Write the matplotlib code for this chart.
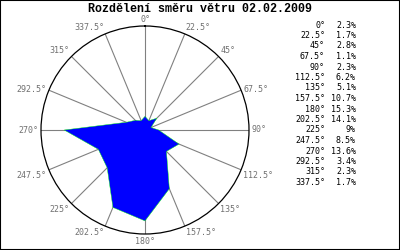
import matplotlib.pyplot as plt
import numpy as np
from matplotlib.patches import Rectangle

directions = [0, 22.5, 45, 67.5, 90, 112.5, 135, 157.5,
              180, 202.5, 225, 247.5, 270, 292.5, 315, 337.5]
shares = [2.3, 1.7, 2.8, 1.1, 2.3, 6.2, 5.1, 10.7,
          15.3, 14.1, 9, 8.5, 13.6, 3.4, 2.3, 1.7]
title = "Rozdělení směru větru 02.02.2009"

fig = plt.figure(figsize=(4, 2.5), dpi=100)
fig.patch.set_facecolor("white")

ax = fig.add_axes([0.1025, 0.064, 0.52, 0.832], projection="polar")
ax.set_theta_zero_location("N")
ax.set_theta_direction(-1)

theta = np.radians(directions + [directions[0]])
r = shares + [shares[0]]
ax.fill(theta, r, facecolor="#0000ff", edgecolor="#00ff00", lw=0.3, zorder=3)

rmax = 17.5
ax.set_ylim(0, rmax)
ax.set_yticks([])
ax.set_thetagrids(directions, labels=[""] * len(directions))
ax.xaxis.grid(True, color="#808080", lw=0.8)
ax.yaxis.grid(False)
ax.spines["polar"].set_color("black")
ax.spines["polar"].set_linewidth(0.9)

# direction labels hang off the ends of the spokes
for d in directions:
    a = np.radians(d)
    s, c = np.sin(a), np.cos(a)
    ha = "left" if s > 0.01 else ("right" if s < -0.01 else "center")
    va = "bottom" if c > 0.5 else ("top" if c < -0.1 else "center")
    ax.annotate(f"{d:g}°", (a, rmax), xytext=(1.8 * s, 1.8 * c),
                textcoords="offset points", ha=ha, va=va,
                family="DejaVu Sans Mono", fontsize=6, color="#707070",
                annotation_clip=False)

fig.text(0.5, 0.964, title, ha="center", va="center",
         family="Liberation Mono", fontweight="bold", fontsize=8.4)

# side table
for i, (d, s) in enumerate(zip(directions, shares)):
    y = 1 - (25 + i * 10.5) / 250
    fig.text(325 / 400, y, f"{d:g}°", ha="right", va="center",
             family="DejaVu Sans Mono", fontsize=6)
    fig.text(356 / 400, y, f"{s:g}%", ha="right", va="center",
             family="DejaVu Sans Mono", fontsize=6)

fig.add_artist(Rectangle((0, 0), 1, 1, transform=fig.transFigure,
                         fill=False, edgecolor="black", lw=1.5))

fig.savefig("out.png", dpi=100)
